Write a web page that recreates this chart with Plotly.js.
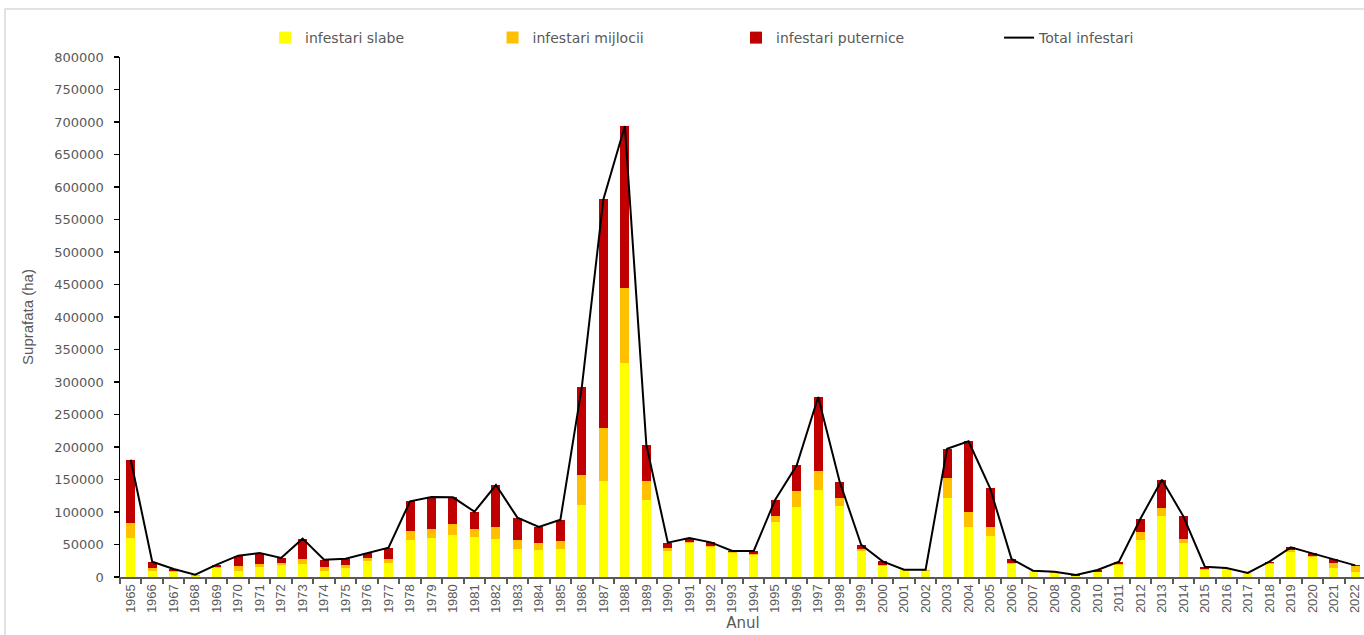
<!DOCTYPE html>
<html>
<head>
<meta charset="utf-8">
<script src="https://cdn.plot.ly/plotly-3.0.1.min.js"></script>
<style>
html,body{margin:0;padding:0;overflow:hidden;background:#fff;}
#chart{width:1366px;height:635px;}
</style>
</head>
<body>
<div id="chart"></div>
<script>
const years = ['1965','1966','1967','1968','1969','1970','1971','1972','1973','1974','1975','1976','1977','1978','1979','1980','1981','1982','1983','1984','1985','1986','1987','1988','1989','1990','1991','1992','1993','1994','1995','1996','1997','1998','1999','2000','2001','2002','2003','2004','2005','2006','2007','2008','2009','2010','2011','2012','2013','2014','2015','2016','2017','2018','2019','2020','2021','2022'];

const slabe = [60000,8700,7200,2000,13300,9700,14900,17900,20000,9700,13300,24100,22000,56400,59500,64100,61500,59000,43600,41500,42600,111300,148200,328700,119000,39500,52300,46200,36400,33800,84100,107200,133800,108700,40500,16900,10800,9700,122000,76400,62600,20500,8700,6700,2000,7200,18500,57400,94400,51800,11300,12800,5600,19500,38500,30300,13300,8200];

const mijlocii = [23000,5100,1500,500,1600,7700,5100,3100,7700,5200,4600,4600,5700,14900,14900,17900,12300,18400,13300,11300,12300,45100,81500,115400,29200,5100,1000,2000,1500,2100,9700,24600,29800,13300,2100,1600,300,500,29800,23600,14800,1000,300,300,300,1000,1000,11300,12300,7200,500,500,200,2000,2500,1500,8200,8700];

const puternice = [97500,9800,3600,1100,4100,15400,16900,8200,31300,11800,10300,8200,17400,45100,48700,40600,26700,64100,34400,24100,33300,136400,351300,249700,55400,8200,6700,5100,2100,4100,25200,40000,113400,24700,7100,5600,200,1100,45600,108700,59500,6200,700,1200,800,2600,4100,21000,43000,34300,4100,500,400,2100,4600,4600,6200,1000];

const total = [180500,23600,12300,3600,19000,32800,36900,29200,59000,26700,28200,36900,45100,116400,123100,122600,100500,141500,91300,76900,88200,292800,581000,693800,203600,52800,60000,53300,40000,40000,119000,171800,277000,146700,49700,24100,11300,11300,197400,208700,136900,27700,9700,8200,3100,10800,23600,89700,149700,93300,15900,13800,6200,23600,45600,36400,27700,17900];

const seriesNames = ['infestari slabe','infestari mijlocii','infestari puternice','Total infestari'];
const yTicks = [0,50000,100000,150000,200000,250000,300000,350000,400000,450000,500000,550000,600000,650000,700000,750000,800000];

const traces = [
  {type:'bar', name:seriesNames[0], x:years, y:slabe, marker:{color:'#FFFF00'}, legend:'legend'},
  {type:'bar', name:seriesNames[1], x:years, y:mijlocii, marker:{color:'#FFC000'}, legend:'legend2'},
  {type:'bar', name:seriesNames[2], x:years, y:puternice, marker:{color:'#C00000'}, legend:'legend3'},
  {type:'scatter', mode:'lines', name:seriesNames[3], x:years, y:total, line:{color:'#000000', width:2}, legend:'legend4'}
];

const legFont = {family:'DejaVu Sans, sans-serif', size:14, color:'#595959'};
function leg(x){
  return {x:x, y:1.0365, xanchor:'left', yanchor:'middle', orientation:'h', font:legFont, bgcolor:'rgba(0,0,0,0)'};
}

const layout = {
  width:1366, height:635,
  margin:{l:120, r:0, t:57, b:58},
  paper_bgcolor:'#ffffff', plot_bgcolor:'#ffffff',
  barmode:'stack', bargap:0.58,
  showlegend:true,
  legend:leg(0.1164),
  legend2:leg(0.2990),
  legend3:leg(0.4944),
  legend4:leg(0.7055),
  xaxis:{
    type:'category', showgrid:false, zeroline:false,
    showline:true, linecolor:'#595959', linewidth:2,
    ticks:'outside', tickson:'boundaries', ticklen:5, tickwidth:2, tickcolor:'#595959',
    tickangle:-90,
    tickfont:{family:'Liberation Sans Narrow, Liberation Sans, sans-serif', size:13, color:'#595959'},
    title:{text:'Anul', font:{family:'DejaVu Sans, sans-serif', size:15, color:'#595959'}, standoff:5},
    fixedrange:true
  },
  yaxis:{
    range:[0,800000], tickvals:yTicks, ticktext:yTicks.map(String),
    showgrid:false, zeroline:false,
    showline:true, linecolor:'#000000', linewidth:1.5,
    ticks:'outside', ticklen:5, tickwidth:1.5, tickcolor:'#000000',
    ticklabelstandoff:7,
    tickfont:{family:'DejaVu Sans, sans-serif', size:13, color:'#595959'},
    title:{text:'Suprafata (ha)', font:{family:'Liberation Sans Narrow, Liberation Sans, sans-serif', size:15, color:'#595959'}, standoff:17},
    fixedrange:true
  },
  shapes:[
    {type:'rect', xref:'paper', yref:'paper', x0:(5-120)/1246, x1:1.05, y0:-0.3, y1:(577-9)/520,
     line:{color:'#d9d9d9', width:1.5}, fillcolor:'rgba(0,0,0,0)', layer:'below'}
  ]
};

Plotly.newPlot('chart', traces, layout, {displayModeBar:false, staticPlot:true});
</script>
</body>
</html>
